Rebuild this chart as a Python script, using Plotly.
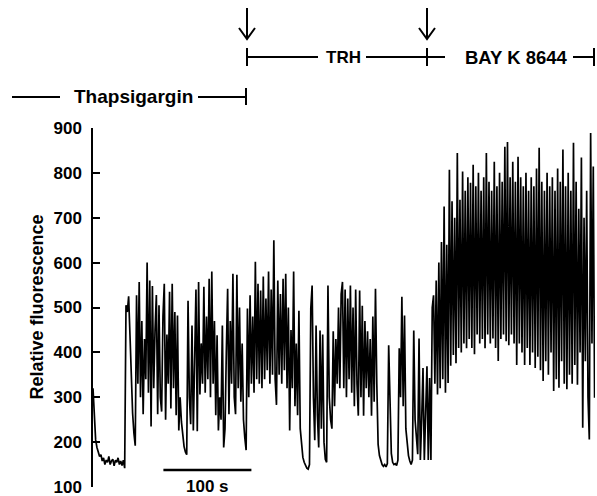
import numpy as np
import plotly.graph_objects as go

# ---------------- data ----------------
SAMPLE_INTERVAL_S = 1.5  # seconds between samples

# Thapsigargin period
fluor_thapsigargin = [
    320, 245, 205, 188, 176, 168, 172, 158, 165, 150, 160, 155, 168, 150, 158, 162, 147, 160, 155, 165,
    150, 158, 148, 160, 142,
    505, 490, 525, 440, 340, 265, 220, 192,
    527, 330, 557, 300, 470, 262, 430, 340, 600, 310, 560, 235, 548, 320, 450, 528, 262, 505, 300, 268,
    480, 553, 250, 440, 330, 535, 275, 553,
    320, 490, 260, 482, 226, 300, 245, 210, 190, 178, 172, 515, 300, 240, 460, 226, 380, 540, 224, 557, 306,
    420, 330, 546, 310, 480, 340, 564, 300, 580, 330, 470, 260, 438, 226, 300, 250, 460, 188, 230,
    400, 542, 262, 470, 330, 575, 300, 262, 573, 320, 500, 290, 420, 250, 210, 182,
]

# TRH period
fluor_trh = [
    498, 300, 527, 330, 480, 310, 602, 340, 553, 330, 538, 320,
    569, 340, 520, 360, 580, 330, 540, 350, 650, 340, 283, 560, 350, 530, 330, 564, 360, 575, 320, 500, 226, 450,
    320, 580, 280, 420, 260, 493, 230, 190, 166, 155, 148, 142, 140, 150, 498, 549, 300, 204, 460, 260,
    188, 449, 230, 440, 200, 162, 155, 549, 300, 250, 230, 447, 280, 430, 330, 500, 320, 530,
    557, 320, 540, 300, 520, 340, 549, 310, 500, 280, 540, 330, 259, 538, 300, 504, 259, 470, 320, 447,
    300, 430, 259, 480, 290, 542,
    330, 195, 170, 158, 150, 146, 150, 145, 152, 416, 260, 175, 155, 150, 152, 148, 160, 409, 300, 524,
    280, 482, 230, 195, 170, 158, 150, 160, 449, 250, 200, 173, 431, 160, 250, 365, 160, 300, 369, 160,
]

# BAY K 8644 period
fluor_bayk = [
    343, 160, 500, 527,
    330, 560, 306, 600, 320, 646, 340, 725, 310, 640, 332, 807, 370, 737, 394, 700,
    376, 844, 410, 740, 400, 803, 420, 760, 409, 790, 430, 778, 410, 818, 396, 770,
    440, 800, 420, 760, 430, 790, 409, 844, 440, 780, 420, 760, 431, 825, 410, 770,
    381, 800, 430, 780, 440, 858, 425, 869, 416, 790, 440, 825, 420, 780, 372, 836,
    420, 790, 400, 770, 372, 800, 410, 760, 372, 790, 400, 770, 365, 810, 390, 856,
    360, 780, 336, 760, 380, 800, 350, 770, 400, 790, 314, 760, 340, 810, 321, 780,
    380, 852, 330, 770, 318, 800, 350, 760, 330, 867, 372, 780, 328, 720, 400, 834,
    232, 700, 380, 760, 300, 206, 889, 420, 814, 299,
]

y_ticks = [100, 200, 300, 400, 500, 600, 700, 800, 900]
y_label = "Relative fluorescence"
period_labels = ["Thapsigargin", "TRH", "BAY K 8644"]
scale_bar_s = 100
scale_bar_start_s = 80

fluor = fluor_thapsigargin + fluor_trh + fluor_bayk
t = np.arange(len(fluor)) * SAMPLE_INTERVAL_S

# ---------------- figure ----------------
W, H = 597, 496
L, R, T, B = 93, 2, 128, 9
PW, PH = W - L - R, H - T - B


def px(x):
    return (x - L) / PW


def py(y):
    return (H - B - y) / PH


FONT = "Liberation Sans, Arial, Helvetica, sans-serif"

fig = go.Figure()
fig.add_trace(go.Scatter(x=t, y=fluor, mode="lines",
                         line=dict(color="black", width=1.7), hoverinfo="skip"))

shapes = []
annotations = []

LW = 2


def hline(x0, x1, y):
    shapes.append(dict(type="line", xref="paper", yref="paper", x0=px(x0), x1=px(x1),
                       y0=py(y), y1=py(y), line=dict(color="black", width=LW)))


def vline(x, y0, y1):
    shapes.append(dict(type="line", xref="paper", yref="paper", x0=px(x), x1=px(x),
                       y0=py(y0), y1=py(y1), line=dict(color="black", width=LW)))


def label(x, y, text, size=18):
    annotations.append(dict(xref="paper", yref="paper", x=px(x), y=py(y), text=text,
                            showarrow=False, xanchor="center", yanchor="middle",
                            font=dict(family=FONT, size=size, color="black", weight="bold")))


# Thapsigargin bar
hline(12, 60, 97)
label(133, 97, period_labels[0], 19)
hline(198, 246, 97)
vline(246, 88, 105)

# TRH bar
vline(247, 48, 66)
hline(247, 318, 57)
label(343, 57, period_labels[1], 17)
hline(366, 445, 57)
vline(427, 48, 66)

# BAY K bar
label(516, 57, period_labels[2], 18.5)
hline(573, 594, 57)
vline(594, 48, 66)

# arrows
for ax_ in (247, 427):
    vline(ax_, 8, 38)
    shapes.append(dict(type="path", xref="paper", yref="paper",
                       path=f"M {px(ax_-8)},{py(28)} L {px(ax_)},{py(39)} L {px(ax_+8)},{py(28)}",
                       line=dict(color="black", width=LW)))

# scale bar
shapes.append(dict(type="line", xref="x", yref="paper", x0=scale_bar_start_s,
                   x1=scale_bar_start_s + scale_bar_s, y0=py(470), y1=py(470),
                   line=dict(color="black", width=2.5)))
annotations.append(dict(xref="x", yref="paper", x=scale_bar_start_s + scale_bar_s / 2, y=py(486),
                        text=f"{scale_bar_s} s", showarrow=False, xanchor="center", yanchor="middle",
                        font=dict(family=FONT, size=17, color="black", weight="bold")))

# y title
annotations.append(dict(xref="paper", yref="paper", x=px(36), y=0.5, text=y_label, textangle=-90,
                        showarrow=False, xanchor="center", yanchor="middle",
                        font=dict(family=FONT, size=18, color="black", weight="bold")))

fig.update_layout(
    width=W, height=H,
    margin=dict(l=L, r=R, t=T, b=B, pad=0, autoexpand=False),
    paper_bgcolor="white", plot_bgcolor="white",
    showlegend=False,
    shapes=shapes, annotations=annotations,
    xaxis=dict(visible=False, range=[0, PW / 0.88], fixedrange=True, automargin=False),
    yaxis=dict(range=[100, 900], tickvals=y_ticks, ticks="inside", ticklen=7, tickwidth=1.5,
               tickcolor="black", showline=True, linecolor="black", linewidth=1.5,
               showgrid=False, zeroline=False, ticklabelstandoff=6, ticklabeloverflow="allow",
               automargin=False,
               tickfont=dict(family=FONT, size=17, color="black", weight="bold")),
)

fig.write_html("out.html")
